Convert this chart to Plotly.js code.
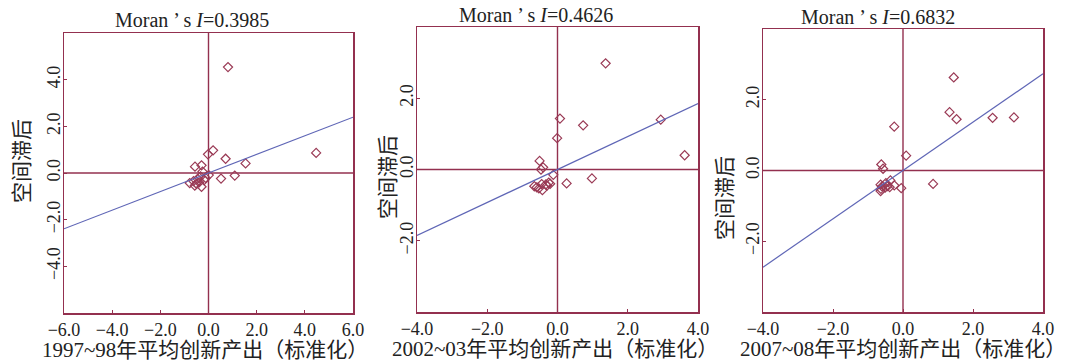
<!DOCTYPE html>
<html>
<head>
<meta charset="utf-8">
<script src="https://cdn.plot.ly/plotly-3.0.1.min.js"></script>
<style>html,body{margin:0;padding:0;background:#fff;}#chart{width:1068px;height:361px;}</style>
</head>
<body>
<div id="chart"></div>
<script>
// ---- data ----
const periods = ["1997~98", "2002~03", "2007~08"];
const moranI = [0.3985, 0.4626, 0.6832];
const yTitle = "空间滞后";
const xTitleSuffix = "年平均创新产出（标准化）";

// Panel 1: 1997~98
const x1 = [0.81, 4.47, 0.19, -0.02, 0.71, 1.54, 1.09, 0.52, -0.56, -0.29, -0.25, 0.01, -0.12, -0.78, -0.57, -0.39, -0.29, -0.50, -0.18, -0.62, -0.45, -0.33];
const y1 = [4.54, 0.86, 0.97, 0.80, 0.61, 0.41, -0.11, -0.24, 0.27, 0.33, 0.06, -0.09, -0.21, -0.43, -0.54, -0.40, -0.59, -0.46, -0.30, -0.35, -0.25, -0.15];

// Panel 2: 2002~03
const x2 = [1.37, 0.07, 0.73, 2.94, -0.01, 3.62, -0.51, -0.41, -0.47, 0.98, 0.26, -0.12, -0.25, -0.33, -0.45, -0.59, -0.66, -0.43, -0.53, -0.21, -0.30];
const y2 = [2.98, 1.43, 1.24, 1.40, 0.88, 0.40, 0.24, 0.06, 0.00, -0.25, -0.39, -0.15, -0.37, -0.42, -0.41, -0.50, -0.47, -0.58, -0.53, -0.40, -0.45];

// Panel 3: 2007~08
const x3 = [1.45, 1.33, 1.53, 2.56, 3.17, -0.25, 0.09, -0.62, -0.57, 0.86, -0.05, -0.25, -0.36, -0.38, -0.49, -0.64, -0.63, -0.64, -0.51, -0.44, -0.60];
const y3 = [2.63, 1.65, 1.45, 1.49, 1.50, 1.24, 0.42, 0.17, 0.05, -0.38, -0.50, -0.42, -0.28, -0.47, -0.36, -0.40, -0.52, -0.58, -0.48, -0.44, -0.45];

const xRanges = [[-6, 6], [-4, 4], [-4, 4]];
const yRanges = [[-6, 6], [-4, 4], [-4, 4]];
const xTicks = [[-6, -4, -2, 0, 2, 4, 6], [-4, -2, 0, 2, 4], [-4, -2, 0, 2, 4]];
const yTicks = [[-4, -2, 0, 2, 4], [-2, 0, 2], [-2, 0, 2]];

// ---- style ----
const frameColor = "#93304f";
const markerColor = "#9a3a55";
const lineColor = "#5f66b6";
const serif = "Liberation Serif, Times New Roman, serif";
const cjk = "Liberation Serif, Noto Sans CJK SC, serif";

const W = 1068, H = 361;
const plotBoxes = [ // [left, right, top, bottom] in px
  [64, 353, 33, 313],
  [417, 698, 27, 312],
  [763, 1043, 29, 312]
];
const titlePos = [[192, 20], [536, 15], [878, 17]];
const xTitlePos = [[205, 350], [555, 349], [903, 349]];
const yTitlePos = [[22, 161], [388, 177], [725, 198]];

const xs = [x1, x2, x3], ys = [y1, y2, y3];
const traces = [];
const layout = {
  width: W, height: H, margin: {l: 0, r: 0, t: 0, b: 0},
  paper_bgcolor: "#fff", plot_bgcolor: "#fff",
  showlegend: false, annotations: [], shapes: []
};

for (let i = 0; i < 3; i++) {
  const sfx = i === 0 ? "" : String(i + 1);
  const xa = "x" + sfx, ya = "y" + sfx;
  traces.push({
    type: "scatter", mode: "markers", x: xs[i], y: ys[i], xaxis: xa, yaxis: ya,
    marker: {symbol: "diamond-open", size: 7, color: markerColor, line: {width: 1.2, color: markerColor}},
    hoverinfo: "skip", cliponaxis: false
  });
  const lx = xRanges[i];
  traces.push({
    type: "scatter", mode: "lines", x: lx, y: lx.map(v => v * moranI[i]), xaxis: xa, yaxis: ya,
    line: {color: lineColor, width: 1.2}, hoverinfo: "skip"
  });
  // quadrant (zero) lines
  layout.shapes.push({type: "line", xref: xa + " domain", yref: ya, x0: 0, x1: 1, y0: 0, y1: 0,
    line: {color: frameColor, width: 1.4}, layer: "below"});
  layout.shapes.push({type: "line", xref: xa, yref: ya + " domain", x0: 0, x1: 0, y0: 0, y1: 1,
    line: {color: frameColor, width: 1.4}, layer: "below"});
  const b = plotBoxes[i];
  const common = {
    showgrid: false, zeroline: false,
    showline: true, mirror: true, linecolor: frameColor, linewidth: 1.5,
    ticks: "inside", ticklen: 3, tickwidth: 1, tickcolor: frameColor,
    tickformat: ".1f", tickfont: {family: serif, size: 18, color: "#222"}
  };
  layout["xaxis" + sfx] = Object.assign({}, common, {
    domain: [b[0] / W, b[1] / W], range: xRanges[i], tickvals: xTicks[i],
    anchor: ya
  });
  layout["yaxis" + sfx] = Object.assign({}, common, {
    domain: [1 - b[3] / H, 1 - b[2] / H], range: yRanges[i], tickvals: yTicks[i],
    anchor: xa, tickangle: -90, ticklabelstandoff: -5
  });
  layout.annotations.push({
    xref: "paper", yref: "paper", x: titlePos[i][0] / W, y: 1 - titlePos[i][1] / H,
    xanchor: "center", yanchor: "middle", showarrow: false,
    text: "Moran ’ s <i>I</i>=" + moranI[i].toFixed(4),
    font: {family: serif, size: 20, color: "#222"}
  });
  layout.annotations.push({
    xref: "paper", yref: "paper", x: xTitlePos[i][0] / W, y: 1 - xTitlePos[i][1] / H,
    xanchor: "center", yanchor: "middle", showarrow: false,
    text: periods[i] + xTitleSuffix,
    font: {family: cjk, size: 21, color: "#222"}
  });
  layout.annotations.push({
    xref: "paper", yref: "paper", x: yTitlePos[i][0] / W, y: 1 - yTitlePos[i][1] / H,
    xanchor: "center", yanchor: "middle", showarrow: false, textangle: -90,
    text: yTitle,
    font: {family: cjk, size: 21, color: "#222"}
  });
}

Plotly.newPlot("chart", traces, layout, {displayModeBar: false, staticPlot: true});
</script>
</body>
</html>
